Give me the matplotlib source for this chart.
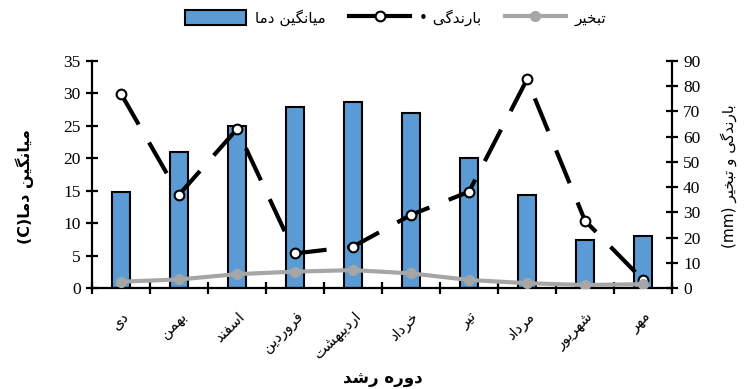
import matplotlib
matplotlib.use("Agg")
import matplotlib.pyplot as plt
import numpy as np
from matplotlib.patches import Patch
from matplotlib.lines import Line2D

# ---- data ----
months = ["دی", "بهمن", "اسفند", "فروردین", "اردیبهشت", "خرداد", "تیر", "مرداد", "شهریور", "مهر"]
temp = [14.8, 20.9, 25.0, 27.9, 28.7, 27.0, 20.1, 14.3, 7.4, 8.0]
rain = [77, 37, 63, 13.7, 16.4, 29, 38.2, 82.7, 26.7, 3.2]
evap = [2.5, 3.4, 5.5, 6.5, 7.1, 5.8, 3.2, 1.9, 1.2, 1.5]
left_ticks = [0, 5, 10, 15, 20, 25, 30, 35]
right_ticks = [0, 10, 20, 30, 40, 50, 60, 70, 80, 90]
lbl_temp = "میانگین دما"
lbl_rain = "بارندگی"
lbl_evap = "تبخیر"
xlabel = "دوره رشد"
ylabel_left = "میانگین دما"
ylabel_right = "بارندگی و تبخیر"

# ---- minimal Arabic/Persian shaping (presentation forms) ----
FORMS = {
    'ا': ('\uFE8D', '\uFE8E', None, None),
    'ب': ('\uFE8F', '\uFE90', '\uFE91', '\uFE92'),
    'ت': ('\uFE95', '\uFE96', '\uFE97', '\uFE98'),
    'خ': ('\uFEA5', '\uFEA6', '\uFEA7', '\uFEA8'),
    'د': ('\uFEA9', '\uFEAA', None, None),
    'ر': ('\uFEAD', '\uFEAE', None, None),
    'ز': ('\uFEAF', '\uFEB0', None, None),
    'س': ('\uFEB1', '\uFEB2', '\uFEB3', '\uFEB4'),
    'ش': ('\uFEB5', '\uFEB6', '\uFEB7', '\uFEB8'),
    'ف': ('\uFED1', '\uFED2', '\uFED3', '\uFED4'),
    'م': ('\uFEE1', '\uFEE2', '\uFEE3', '\uFEE4'),
    'ن': ('\uFEE5', '\uFEE6', '\uFEE7', '\uFEE8'),
    'ه': ('\uFEE9', '\uFEEA', '\uFEEB', '\uFEEC'),
    'و': ('\uFEED', '\uFEEE', None, None),
    'ی': ('\uFBFC', '\uFBFD', '\uFBFE', '\uFBFF'),
    'گ': ('\uFB92', '\uFB93', '\uFB94', '\uFB95'),
}


def shape(s):
    out = []
    for i, c in enumerate(s):
        if c not in FORMS:
            out.append(c)
            continue
        prev = s[i - 1] if i > 0 else ''
        nxt = s[i + 1] if i + 1 < len(s) else ''
        jp = prev in FORMS and FORMS[prev][2] is not None
        jn = FORMS[c][2] is not None and nxt in FORMS
        iso, fin, ini, med = FORMS[c]
        if jp and jn:
            out.append(med)
        elif jp:
            out.append(fin)
        elif jn:
            out.append(ini)
        else:
            out.append(iso)
    return ''.join(out)[::-1]


AR = ['DejaVu Sans']
NUM = ['Liberation Serif', 'DejaVu Serif']

fig = plt.figure(figsize=(7.47, 3.89), dpi=100)
ax = fig.add_axes([0.1232, 0.2596, 0.7764, 0.5836])
ax2 = ax.twinx()

x = np.arange(len(months))
ax.bar(x, temp, width=0.32, color='#5B9BD5', edgecolor='black', linewidth=1.5, zorder=2)
ax.set_ylim(0, 35)
ax.set_xlim(-0.5, len(months) - 0.5)
ax.set_yticks(left_ticks)

ax2.plot(x, rain, color='black', lw=3, linestyle=(0, (8.5, 5)), marker='o',
         markersize=7, markerfacecolor='white', markeredgecolor='black',
         markeredgewidth=1.5, zorder=3)
ax2.plot(x, evap, color='#A6A6A6', lw=3, marker='o', markersize=7,
         markerfacecolor='#A6A6A6', markeredgecolor='#A6A6A6', zorder=3)
ax2.set_ylim(0, 90)
ax2.set_yticks(right_ticks)

for a in (ax, ax2):
    a.spines['top'].set_visible(False)
    for sp in ('left', 'right', 'bottom'):
        a.spines[sp].set_linewidth(1.6)
ax.spines['right'].set_visible(False)
ax2.spines['left'].set_visible(False)
ax2.spines['bottom'].set_visible(False)

ax.tick_params(axis='y', direction='inout', length=8, width=1.6, labelsize=12.5, pad=4)
ax2.tick_params(axis='y', direction='inout', length=8, width=1.6, labelsize=12.5, pad=4)
for t in ax.get_yticklabels() + ax2.get_yticklabels():
    t.set_family(NUM)

# x ticks at boundaries, labels at centers
ax.set_xticks(np.arange(-0.5, len(months), 1.0))
ax.set_xticklabels([])
ax.tick_params(axis='x', which='major', direction='inout', length=8, width=1.6)
ax.set_xticks(x, minor=True)
ax.set_xticklabels([shape(m) for m in months], minor=True, rotation=45,
                   ha='right', va='top', rotation_mode='anchor',
                   family=AR, fontsize=10.5)
ax.tick_params(axis='x', which='minor', length=0, pad=15)

fig.text(0.512, 0.028, shape(xlabel), ha='center', va='center',
         family=AR, fontsize=12, fontweight='bold')
fig.text(0.033, 0.52, "(C)" + shape(ylabel_left), rotation=90, ha='center', va='center',
         family=AR, fontsize=11.5, fontweight='bold')
fig.text(0.976, 0.548, "(mm) " + shape(ylabel_right), rotation=90, ha='center', va='center',
         family=AR, fontsize=11)

handles = [
    Patch(facecolor='#5B9BD5', edgecolor='black', linewidth=1.5),
    Line2D([], [], color='black', lw=3, marker='o', markersize=7,
           markerfacecolor='white', markeredgecolor='black', markeredgewidth=1.5),
    Line2D([], [], color='#A6A6A6', lw=3, marker='o', markersize=7,
           markerfacecolor='#A6A6A6', markeredgecolor='#A6A6A6'),
]
labels = [shape(lbl_temp), "• " + shape(lbl_rain), shape(lbl_evap)]
fig.legend(handles, labels, loc='center', bbox_to_anchor=(0.53, 0.955), ncol=3,
           frameon=False, prop={'family': AR, 'size': 11}, handlelength=4,
           handleheight=1.1, columnspacing=1.5, handletextpad=0.6)

fig.savefig('out.png', dpi=100)
